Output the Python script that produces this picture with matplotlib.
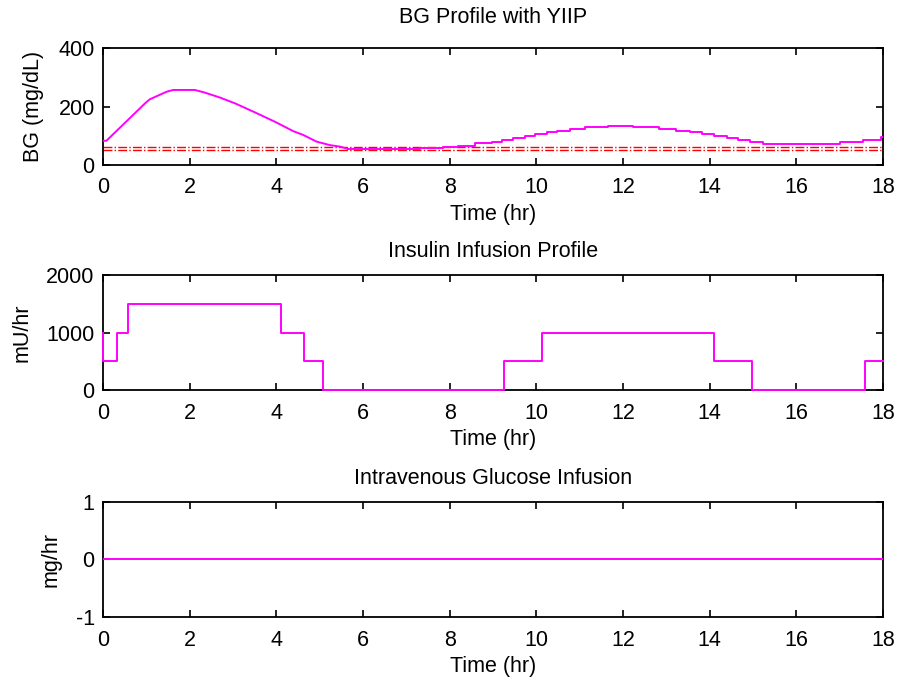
import numpy as np
import matplotlib
matplotlib.use('Agg')
import matplotlib.pyplot as plt

plt.rcParams['font.family'] = ['Liberation Sans', 'DejaVu Sans']
plt.rcParams['font.size'] = 15.5
plt.rcParams['axes.unicode_minus'] = False

# BG profile: rising/falling part drawn as a plain line
t_bg_smooth = [0, 0.08, 0.97, 1.08, 1.47, 1.62, 2.12, 2.35, 2.70, 3.05, 3.51, 3.97, 4.39, 4.62, 4.93, 5.24, 5.47, 5.66]
bg_smooth = [83, 83, 211, 225, 251, 257, 257, 248, 231, 211, 180, 148, 116, 103, 80, 68, 63, 55]
# later part is sample-and-hold
t_bg_step = [5.66, 7.32, 7.85, 8.20, 8.59, 8.97, 9.20, 9.47, 9.74, 9.97, 10.24, 10.47, 10.78, 11.12, 11.66,
             12.22, 12.84, 13.22, 13.55, 13.82, 14.09, 14.39, 14.66, 14.93, 15.24, 17.0, 17.53, 17.95, 18.0]
bg_step = [55, 58, 62, 66, 74, 80, 85, 93, 99, 105, 112, 116, 122, 129, 134,
           129, 122, 116, 112, 106, 99, 93, 85, 80, 72, 80, 85, 95, 95]
bg_limits = [50, 60]

t_ins = [0, 0, 0.32, 0.58, 4.10, 4.64, 5.07, 9.25, 10.13, 14.11, 14.98, 17.59, 18]
insulin = [1000, 500, 1000, 1500, 1000, 500, 0, 500, 1000, 500, 0, 500, 500]

t_glu = [0, 18]
glucose = [0, 0]

magenta = '#ff00ff'

fig = plt.figure(figsize=(9, 6.79), dpi=100)
left, width = 0.1144, 0.8667
ax1 = fig.add_axes([left, 0.757, width, 0.172])
ax2 = fig.add_axes([left, 0.4256, width, 0.1694])
ax3 = fig.add_axes([left, 0.0913, width, 0.1694])

ax1.plot(t_bg_smooth, bg_smooth, color=magenta, lw=1.4, zorder=3)
ax1.plot(t_bg_step, bg_step, color=magenta, lw=1.4, drawstyle='steps-post', zorder=3)
for lim in bg_limits:
    ax1.axhline(lim, color='red', ls='-.', lw=1.0)
ax1.set_ylim(0, 400)
ax1.set_yticks([0, 200, 400])
ax1.set_ylabel('BG (mg/dL)', labelpad=10)
ax1.set_title('BG Profile with YIIP', fontsize=15.5, pad=18)

ax2.plot(t_ins, insulin, color=magenta, lw=1.4, drawstyle='steps-post', zorder=3, clip_on=False)
ax2.set_ylim(0, 2000)
ax2.set_yticks([0, 1000, 2000])
ax2.set_ylabel('mU/hr', labelpad=10)
ax2.set_title('Insulin Infusion Profile', fontsize=15.5, pad=13)

ax3.plot(t_glu, glucose, color=magenta, lw=1.4, zorder=3)
ax3.set_ylim(-1, 1)
ax3.set_yticks([-1, 0, 1])
ax3.set_ylabel('mg/hr', labelpad=10)
ax3.set_title('Intravenous Glucose Infusion', fontsize=15.5, pad=13)

for ax in (ax1, ax2, ax3):
    ax.set_xlim(0, 18)
    ax.set_xticks(np.arange(0, 19, 2))
    ax.set_xlabel('Time (hr)', labelpad=4)
    ax.tick_params(direction='in', top=True, right=True, length=5, width=1.2)
    ax.tick_params(axis='x', pad=9)
    ax.tick_params(axis='y', pad=6)
    for s in ax.spines.values():
        s.set_linewidth(1.3)

fig.savefig('out.png', dpi=100)
